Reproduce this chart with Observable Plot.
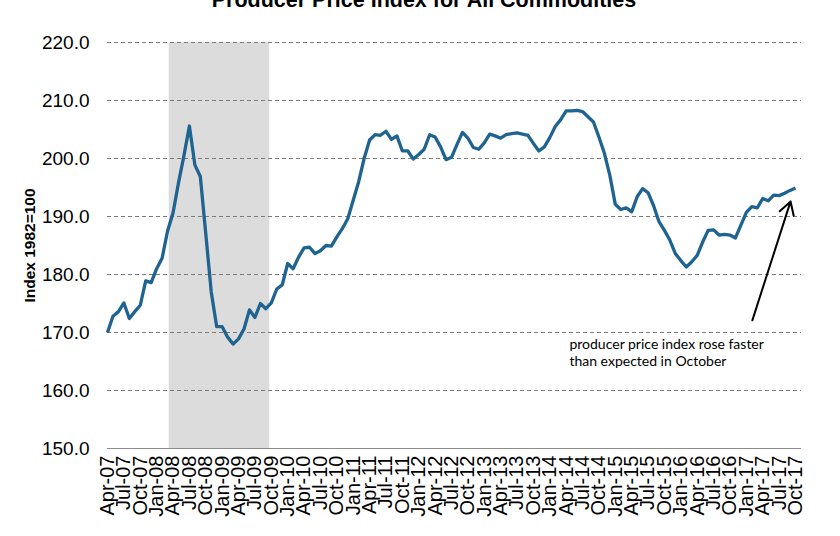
<!DOCTYPE html>
<html>
<head>
<meta charset="utf-8">
<script src="https://cdn.jsdelivr.net/npm/d3@7"></script>
<script src="https://cdn.jsdelivr.net/npm/@observablehq/plot@0.6"></script>
<style>
  html, body { margin: 0; padding: 0; background: #fff; }
  #wrap { position: relative; width: 840px; height: 536px; overflow: hidden; }
  #title { position: absolute; top: -10px; left: 4px; width: 840px; text-align: center;
    font: bold 21.5px/21.5px "Liberation Sans", Arial, sans-serif; color: #000; z-index: 2; }
</style>
</head>
<body>
<div id="wrap">
  <div id="title">Producer  Price Index for All Commodities</div>
  <div id="chart"></div>
</div>
<script>
// Monthly PPI values, Apr-2007 .. Oct-2017 (index 1982=100)
const ppiValues = [
  170.0, 172.8, 173.6, 175.1, 172.4, 173.6, 174.7, 178.9, 178.6, 181.0, 182.8, 187.5,
  190.6, 195.8, 200.5, 205.6, 198.9, 196.9, 187.0, 177.0, 171.0, 171.0, 169.2, 168.0,
  168.9, 170.6, 173.9, 172.6, 175.0, 174.1, 175.1, 177.5, 178.2, 181.9, 181.0, 183.0,
  184.6, 184.7, 183.6, 184.1, 185.0, 184.9, 186.5, 187.9, 189.6, 192.8, 196.0, 200.0,
  203.2, 204.1, 204.0, 204.7, 203.3, 203.9, 201.3, 201.3, 199.9, 200.7, 201.6, 204.1,
  203.7, 202.0, 199.8, 200.2, 202.4, 204.5, 203.5, 201.9, 201.6, 202.7, 204.2, 203.9,
  203.5, 204.1, 204.3, 204.4, 204.2, 204.0, 202.6, 201.3, 202.0, 203.6, 205.5, 206.7,
  208.2, 208.2, 208.3, 208.1, 207.2, 206.3, 203.7, 200.9, 197.1, 192.1, 191.2, 191.5,
  190.8, 193.4, 194.8, 194.1, 191.9, 189.1, 187.6, 185.9, 183.6, 182.4, 181.3, 182.2,
  183.3, 185.6, 187.6, 187.7, 186.8, 186.9, 186.8, 186.3, 188.5, 190.7, 191.7, 191.5,
  193.1, 192.7, 193.7, 193.6, 194.0, 194.5, 194.9
];
// Quarterly tick labels (every 3rd month, starting Apr-07)
const tickLabels = [
  "Apr-07","Jul-07","Oct-07","Jan-08","Apr-08","Jul-08","Oct-08","Jan-09","Apr-09","Jul-09","Oct-09",
  "Jan-10","Apr-10","Jul-10","Oct-10","Jan-11","Apr-11","Jul-11","Oct-11",
  "Jan-12","Apr-12","Jul-12","Oct-12","Jan-13","Apr-13","Jul-13","Oct-13",
  "Jan-14","Apr-14","Jul-14","Oct-14","Jan-15","Apr-15","Jul-15","Oct-15",
  "Jan-16","Apr-16","Jul-16","Oct-16","Jan-17","Apr-17","Jul-17","Oct-17"
];
const yTicks = [150, 160, 170, 180, 190, 200, 210, 220];
// Shaded period (in month-index units from Apr-07)
const shadeStart = 11.3;
const shadeEnd = 29.7;
// Annotation
const noteText = "producer price index rose faster\nthan expected in October";
const noteAt = {i: 84.6, v: 169.3};
const arrowFrom = {i: 118.1, v: 172.1};
const arrowTo = {i: 125.1, v: 192.6};
const yLabel = "Index 1982=100";

const data = ppiValues.map((v, i) => ({i, v}));
const tickIdx = tickLabels.map((_, k) => k * 3);

const chart = Plot.plot({
  width: 840,
  height: 536,
  marginLeft: 107,
  marginRight: 39,
  marginTop: 42,
  marginBottom: 88,
  style: {fontFamily: "'Liberation Sans', Arial, sans-serif", color: "#000", background: "#fff", overflow: "visible"},
  x: {type: "linear", domain: [0, 127.1]},
  y: {domain: [150, 220]},
  marks: [
    Plot.rect([{a: shadeStart, b: shadeEnd}], {x1: "a", x2: "b", y1: 150, y2: 220, fill: "#dcdcdc"}),
    Plot.gridY(yTicks.filter(t => t > 150), {stroke: "#7a7a7a", strokeOpacity: 1, strokeWidth: 1, strokeDasharray: "4,3"}),
    Plot.ruleY([150], {stroke: "#8c8c8c", strokeWidth: 1}),
    Plot.axisY(yTicks, {tickSize: 0, tickPadding: 18, tickFormat: d => d.toFixed(1), fontSize: 19, label: null}),
    Plot.axisX(tickIdx, {tickSize: 0, tickPadding: 7, tickRotate: -90, fontSize: 20,
      tickFormat: i => tickLabels[i / 3], label: null}),
    Plot.text([yLabel], {frameAnchor: "left", dx: -77, rotate: -90, textAnchor: "middle", lineAnchor: "middle",
      fontWeight: "bold", fontSize: 15.5, text: d => d}),
    Plot.line(data, {x: "i", y: "v", stroke: "#1f6391", strokeWidth: 3.3, strokeLinejoin: "round", strokeLinecap: "butt"}),
    Plot.arrow([{x1: arrowFrom.i, y1: arrowFrom.v, x2: arrowTo.i, y2: arrowTo.v}],
      {x1: "x1", y1: "y1", x2: "x2", y2: "y2", stroke: "#000", strokeWidth: 2, headLength: 11, bend: 0}),
    Plot.text([noteText], {x: noteAt.i, y: noteAt.v, text: d => d, textAnchor: "start", lineAnchor: "top",
      lineHeight: 1.24, fontSize: 14, fontFamily: "Lato, 'Open Sans', sans-serif", fill: "#000"})
  ]
});
document.getElementById("chart").appendChild(chart);
</script>
</body>
</html>
